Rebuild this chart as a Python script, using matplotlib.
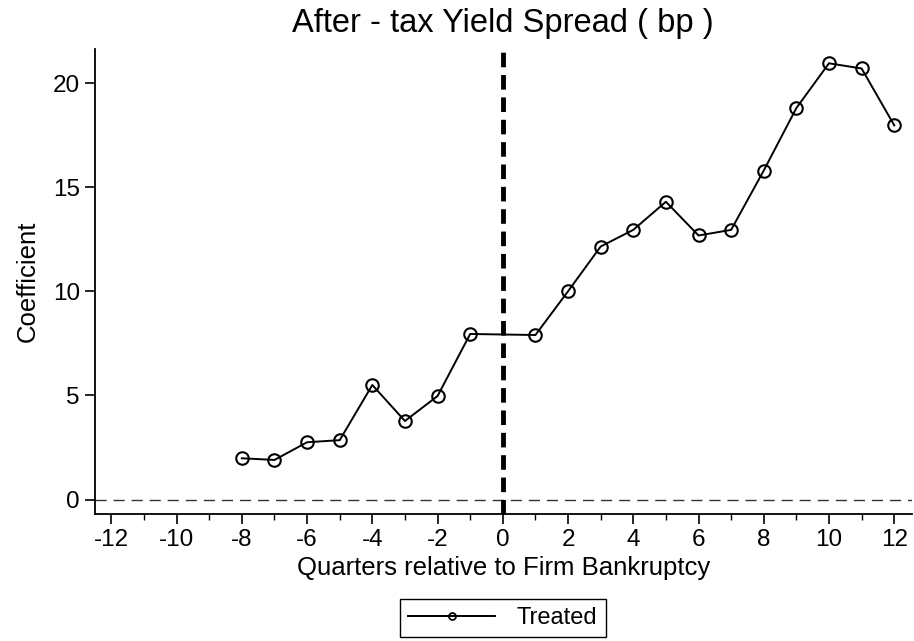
import matplotlib
matplotlib.use('Agg')
import matplotlib.pyplot as plt

quarters = [-8, -7, -6, -5, -4, -3, -2, -1, 1, 2, 3, 4, 5, 6, 7, 8, 9, 10, 11, 12]
coef = [1.98, 1.9, 2.75, 2.85, 5.5, 3.77, 4.97, 7.95, 7.9, 10.0,
        12.15, 12.95, 14.3, 12.68, 12.95, 15.8, 18.8, 20.95, 20.7, 17.97]
xticks = list(range(-12, 13, 2))
yticks = [0, 5, 10, 15, 20]

plt.rcParams['font.family'] = ['Liberation Sans', 'DejaVu Sans']
plt.rcParams['axes.unicode_minus'] = False

fig = plt.figure(figsize=(9.14, 6.41), dpi=100)
ax = fig.add_axes([0.104, 0.198, 0.894, 0.726])

ax.axhline(0, color='#333333', lw=1, ls=(0, (8, 5)))
ax.axvline(0, color='black', lw=3.5, ls=(0, (3, 1.6)))
ax.plot(quarters, coef, color='black', lw=1.4, marker='o', ms=9,
        mfc='none', mec='black', mew=1.5)

ax.set_xlim(-12.5, 12.55)
ax.set_ylim(-0.7, 21.65)
ax.set_xticks(xticks)
ax.set_xticks(range(-11, 13, 2), minor=True)
ax.set_yticks(yticks)
ax.tick_params(axis='both', which='major', labelsize=17.5, length=7, width=1.2,
               direction='out', pad=4)
ax.tick_params(axis='x', which='minor', length=4, width=1)

for s in ['top', 'right']:
    ax.spines[s].set_visible(False)
for s in ['left', 'bottom']:
    ax.spines[s].set_linewidth(1.3)

ax.set_xlabel('Quarters relative to Firm Bankruptcy', fontsize=18.5, labelpad=3)
ax.set_ylabel('Coefficient', fontsize=18.5, labelpad=9)
fig.text(0.55, 0.963, 'After - tax Yield Spread ( bp )', ha='center', va='center', fontsize=23.5)

# legend handle uses a smaller marker than the plotted series
handle, = ax.plot([], [], color='black', lw=1.4, marker='o', ms=5,
                  mfc='none', mec='black', mew=1.3, label='Treated')
fig.legend(handles=[handle], loc='center', bbox_to_anchor=(0.55, 0.036), fontsize=17,
           frameon=True, fancybox=False, edgecolor='black', handlelength=3.7,
           borderpad=0.35, handletextpad=0.9, borderaxespad=0, framealpha=1)

fig.savefig('out.png', dpi=100)
